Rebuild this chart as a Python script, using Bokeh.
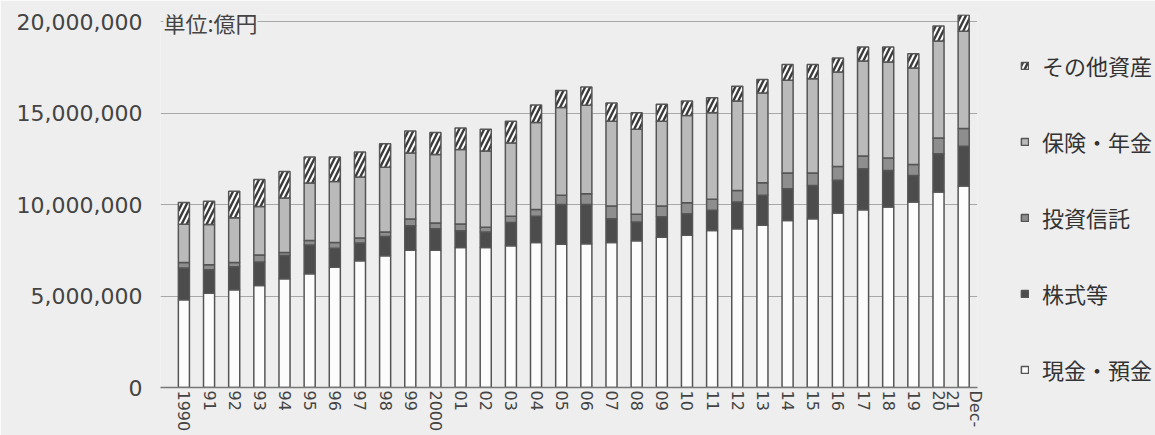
import math
from bokeh.plotting import figure
from bokeh.models import (Range1d, FixedTicker, NumeralTickFormatter, Legend,
                          LegendItem, Label, ColumnDataSource)
from bokeh.embed import file_html
from bokeh.resources import INLINE

# ---- data (単位: 億円) ----
labels = ["1990", "91", "92", "93", "94", "95", "96", "97", "98", "99",
          "2000", "01", "02", "03", "04", "05", "06", "07", "08", "09",
          "10", "11", "12", "13", "14", "15", "16", "17", "18", "19",
          "20", "Dec-\n21"]

cash = [4800000, 5160000, 5350000, 5580000, 5950000, 6220000, 6580000, 6930000,
        7210000, 7500000, 7500000, 7660000, 7660000, 7750000, 7930000, 7840000,
        7860000, 7930000, 8030000, 8220000, 8320000, 8590000, 8680000, 8880000,
        9140000, 9230000, 9540000, 9720000, 9870000, 10140000, 10690000, 11020000]

stocks = [1730000, 1280000, 1250000, 1280000, 1270000, 1570000, 1030000, 970000,
          1050000, 1350000, 1180000, 910000, 840000, 1280000, 1440000, 2170000,
          2150000, 1300000, 1020000, 1120000, 1180000, 1100000, 1460000, 1630000,
          1730000, 1820000, 1790000, 2250000, 2000000, 1460000, 2100000, 2170000]

trusts = [300000, 270000, 240000, 380000, 170000, 250000, 320000, 270000,
          240000, 360000, 310000, 370000, 270000, 340000, 370000, 500000,
          590000, 690000, 420000, 580000, 610000, 610000, 640000, 690000,
          860000, 680000, 760000, 690000, 680000, 600000, 850000, 970000]

insurance = [2100000, 2210000, 2450000, 2660000, 2970000, 3140000, 3340000, 3340000,
             3550000, 3610000, 3760000, 4080000, 4160000, 4000000, 4760000, 4800000,
             4830000, 4640000, 4660000, 4640000, 4760000, 4730000, 4890000, 4900000,
             5070000, 5160000, 5160000, 5200000, 5250000, 5270000, 5310000, 5320000]

other = [1190000, 1270000, 1450000, 1470000, 1460000, 1420000, 1330000, 1370000,
         1280000, 1210000, 1190000, 1170000, 1190000, 1190000, 950000, 940000,
         1000000, 1000000, 900000, 930000, 800000, 820000, 800000, 740000,
         860000, 770000, 770000, 760000, 820000, 790000, 820000, 890000]

series_keys = ["cash", "stocks", "trusts", "insurance", "other"]
series_names = ["現金・預金", "株式等", "投資信託", "保険・年金", "その他資産"]
y_ticks = [0, 5000000, 10000000, 15000000, 20000000]

# ---- styling ----
BG = "#eeeeee"
TXT = "#444444"
fills = ["#fcfcfc", "#4c4c4c", "#8e8e8e", "#bababa", "#fcfcfc"]
hatches = [" ", " ", " ", " ", "/"]

xs = list(range(len(labels)))
src = ColumnDataSource(dict(x=xs, cash=cash, stocks=stocks, trusts=trusts,
                            insurance=insurance, other=other))

p = figure(frame_width=817, frame_height=373,
           output_backend="svg", toolbar_location=None,
           x_range=Range1d(-0.93, 31.55), y_range=Range1d(0, 20400000),
           min_border_left=160, min_border_right=178, min_border_top=14,
           min_border_bottom=48,
           background_fill_color=BG, border_fill_color=BG,
           outline_line_color=None)

renderers = p.vbar_stack(series_keys, x="x", width=0.44, source=src,
                         fill_color=fills, line_color="#555555", line_width=1.5,
                         hatch_pattern=hatches, hatch_color="#3a3a3a",
                         hatch_scale=10, hatch_weight=2.4)

# grid
p.xgrid.visible = False
p.ygrid.ticker = FixedTicker(ticks=y_ticks)
p.ygrid.grid_line_color = "#a8a8a8"
p.ygrid.grid_line_width = 1

# y axis
p.yaxis.ticker = FixedTicker(ticks=y_ticks)
p.yaxis.formatter = NumeralTickFormatter(format="0,0")
p.yaxis.axis_line_color = None
p.yaxis.major_tick_line_color = None
p.yaxis.minor_tick_line_color = None
p.yaxis.major_label_standoff = 12
p.yaxis.major_label_text_font = "DejaVu Sans"
p.yaxis.major_label_text_font_size = "22px"
p.yaxis.major_label_text_color = TXT

# x axis
p.xaxis.ticker = FixedTicker(ticks=xs)
p.xaxis.major_label_overrides = {i: lab for i, lab in enumerate(labels)}
p.xaxis.major_label_orientation = -math.pi / 2
p.xaxis.axis_line_color = "#777777"
p.xaxis.axis_line_width = 1.5
p.xaxis.major_tick_line_color = None
p.xaxis.minor_tick_line_color = None
p.xaxis.major_tick_out = 0
p.xaxis.major_label_standoff = 3
p.xaxis.major_label_text_font = "DejaVu Sans"
p.xaxis.major_label_text_font_size = "16px"
p.xaxis.major_label_text_color = TXT

# unit label
p.add_layout(Label(x=-0.815, y=20000000, text="単位:億円",
                   text_font="Noto Sans CJK JP", text_font_size="22px",
                   text_color=TXT, text_baseline="middle",
                   background_fill_color=BG))

# legend (top to bottom: reverse stack order)
items = [LegendItem(label=series_names[i], renderers=[renderers[i]])
         for i in reversed(range(len(series_keys)))]
legend = Legend(items=items, location=(43, 2), orientation="vertical",
                glyph_width=9, glyph_height=9, label_standoff=13,
                label_text_font="Noto Sans CJK JP", label_text_font_size="22px",
                label_text_color="#333333", label_height=24, spacing=44,
                padding=0, margin=0, border_line_color=None,
                background_fill_alpha=0)
p.add_layout(legend, "right")

open("out.html", "w").write(file_html(p, INLINE))
